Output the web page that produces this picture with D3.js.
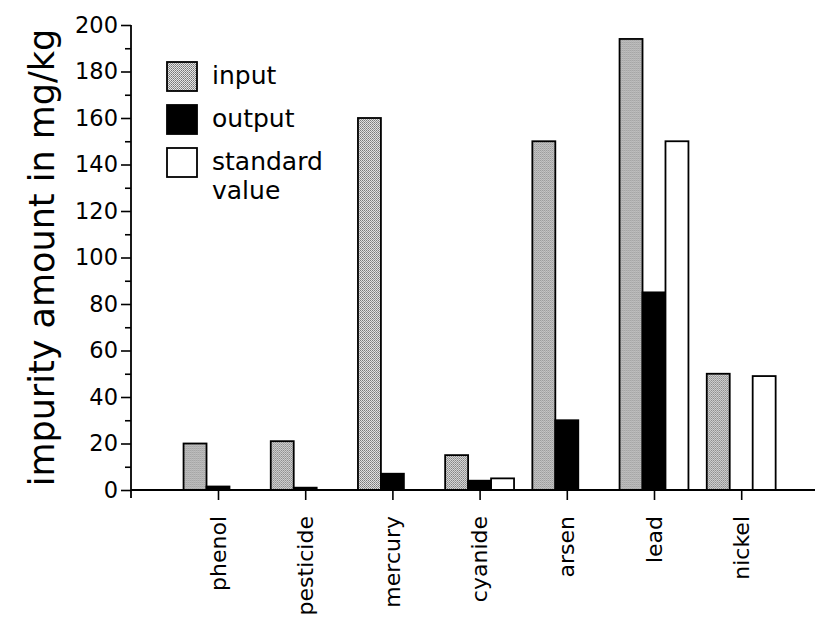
<!DOCTYPE html>
<html>
<head>
<meta charset="utf-8">
<script src="https://cdn.jsdelivr.net/npm/d3@7"></script>
<style>
  body { margin: 0; background: #fff; }
  text { font-family: "DejaVu Sans", sans-serif; fill: #000; }
</style>
</head>
<body>
<div id="chart"></div>
<script>
// impurity amounts
var categories = ["phenol", "pesticide", "mercury", "cyanide", "arsen", "lead", "nickel"];
var series = ["input", "output", "standard"];
var legendLabels = [["input"], ["output"], ["standard", "value"]];
var inputValues = [20, 21, 160, 15, 150, 194, 50];
var outputValues = [1.5, 1, 7, 4, 30, 85, 0];
var standardValues = [0, 0, 0, 5, 0, 150, 49];
var yTicks = [0, 20, 40, 60, 80, 100, 120, 140, 160, 180, 200];
var yMinorTicks = [10, 30, 50, 70, 90, 110, 130, 150, 170, 190];

var width = 819, height = 623;
var x0 = 131, xEnd = 815;      // axis extents
var yBase = 490, yTop = 25;

var svg = d3.select("#chart")
  .append("svg")
    .attr("width", width)
    .attr("height", height);

// stipple for the "input" bars
var defs = svg.append("defs");
var pat = defs.append("pattern")
    .attr("id", "stipple")
    .attr("width", 2).attr("height", 2)
    .attr("patternUnits", "userSpaceOnUse");
pat.append("rect").attr("width", 2).attr("height", 2).attr("fill", "#e4e4e4");
pat.append("rect").attr("width", 1).attr("height", 1).attr("fill", "#757575");
pat.append("rect").attr("x", 1).attr("y", 1).attr("width", 1).attr("height", 1).attr("fill", "#909090");

var fills = {input: "url(#stipple)", output: "#000", standard: "#fff"};

var yScale = d3.scaleLinear()
    .domain([0, 200])
    .range([yBase, yTop]);

var step = 87.2;
var xScale = d3.scaleBand()
    .domain(categories)
    .range([218 - step / 2, 218 - step / 2 + step * categories.length])
    .paddingInner(0.21)
    .paddingOuter(0.105);

var xInner = d3.scaleBand()
    .domain(series)
    .range([0, xScale.bandwidth()]);

var rows = categories.map(function(c, i) {
  return {cat: c, input: inputValues[i], output: outputValues[i], standard: standardValues[i]};
});

// bars
var groups = svg.append("g").selectAll("g")
  .data(rows)
  .join("g")
    .attr("transform", function(d) { return "translate(" + xScale(d.cat) + ",0)"; });

groups.selectAll("rect")
  .data(function(d) { return series.map(function(s) { return {key: s, value: d[s]}; }); })
  .join("rect")
    .filter(function(d) { return d.value > 0; })
    .attr("x", function(d) { return xInner(d.key); })
    .attr("y", function(d) { return yScale(d.value); })
    .attr("width", xInner.bandwidth())
    .attr("height", function(d) { return yBase - yScale(d.value); })
    .attr("fill", function(d) { return fills[d.key]; })
    .attr("stroke", "#000")
    .attr("stroke-width", 1.8);

// y axis, major + minor ticks
var yAxisG = svg.append("g")
    .attr("transform", "translate(" + x0 + ",0)")
    .call(d3.axisLeft(yScale).tickValues(yTicks).tickSize(10).tickPadding(3));
yAxisG.select(".domain").remove();
yAxisG.selectAll("line").attr("stroke-width", 1.6);
yAxisG.selectAll("text")
    .style("font-family", "DejaVu Sans")
    .style("font-size", "22.5px");

var yMinorG = svg.append("g")
    .attr("transform", "translate(" + x0 + ",0)")
    .call(d3.axisLeft(yScale).tickValues(yMinorTicks).tickSize(6).tickFormat(""));
yMinorG.select(".domain").remove();
yMinorG.selectAll("line").attr("stroke-width", 1.6);

svg.append("line")
    .attr("x1", x0).attr("x2", x0)
    .attr("y1", yScale(200)).attr("y2", yBase + 8)
    .attr("stroke", "#000").attr("stroke-width", 1.8);

// x axis
var xAxisG = svg.append("g")
    .attr("transform", "translate(0," + yBase + ")")
    .call(d3.axisBottom(d3.scalePoint().domain(categories)
            .range([xScale(categories[0]) + xScale.bandwidth() / 2,
                    xScale(categories[categories.length - 1]) + xScale.bandwidth() / 2]))
          .tickSize(10));
xAxisG.select(".domain").remove();
xAxisG.selectAll("line").attr("stroke-width", 1.6);
xAxisG.selectAll("text")
    .style("font-family", "DejaVu Sans")
    .style("font-size", "22px")
    .attr("transform", "rotate(-90)")
    .attr("text-anchor", "end")
    .attr("x", -26)
    .attr("y", 7)
    .attr("dy", 0);

svg.append("line")
    .attr("x1", x0).attr("x2", xEnd)
    .attr("y1", yBase).attr("y2", yBase)
    .attr("stroke", "#000").attr("stroke-width", 2.2);

// axis title
svg.append("text")
    .attr("transform", "translate(54," + ((yTop + yBase) / 2) + ") rotate(-90)")
    .attr("text-anchor", "middle")
    .style("font-size", "35px")
    .text("impurity amount in mg/kg");

// legend
var legendY = [62, 105, 148];
var legend = svg.append("g").selectAll("g")
  .data(series)
  .join("g")
    .attr("transform", function(d, i) { return "translate(167," + legendY[i] + ")"; });

legend.append("rect")
    .attr("width", 30).attr("height", 29)
    .attr("fill", function(d) { return fills[d]; })
    .attr("stroke", "#000").attr("stroke-width", 1.8);

legend.append("text")
    .attr("x", 45)
    .style("font-size", "25px")
    .selectAll("tspan")
    .data(function(d, i) { return legendLabels[i]; })
    .join("tspan")
      .attr("x", 45)
      .attr("y", function(d, j) { return 22 + j * 29; })
      .text(function(d) { return d; });
</script>
</body>
</html>
